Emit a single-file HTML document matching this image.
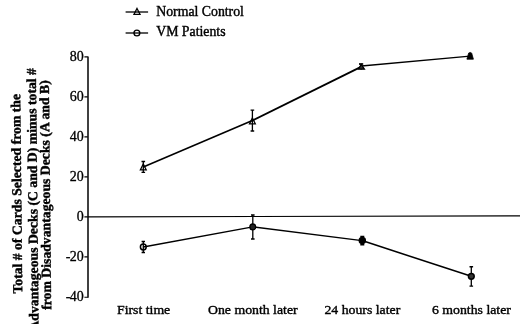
<!DOCTYPE html>
<html><head><meta charset="utf-8"><title>Chart</title>
<style>
html,body{margin:0;padding:0;background:#fff;}
svg{display:block;font-family:"Liberation Serif",serif;fill:#000;}
text{stroke:#000;stroke-width:0.4px;stroke-linejoin:round;}
.b text{stroke-width:0.4px;}
.t text{stroke-width:0.3px;}
</style></head>
<body>
<svg width="520" height="324" viewBox="0 0 520 324">
<rect x="0" y="0" width="520" height="324" fill="#fff"/>
<!-- axes -->
<g stroke="#000" stroke-width="1.1" fill="none">
<path d="M88 56.4V297.7" stroke-width="1.5"/>
<path d="M84.4 56.9H87.8M84.4 96.9H87.8M84.4 136.9H87.8M84.4 176.9H87.8M84.4 216.9H87.8M84.4 256.9H87.8M84.4 297.2H87.8"/>
<path d="M87.8 216.9L520 215.9" stroke-width="1.15"/>
</g>
<!-- tick labels -->
<g class="t" font-size="14" text-anchor="end">
<text x="83.7" y="60.6">80</text>
<text x="83.7" y="100.6">60</text>
<text x="83.7" y="140.6">40</text>
<text x="83.7" y="180.6">20</text>
<text x="83.7" y="220.8">0</text>
<text x="83.7" y="260.8">-<tspan dx="-0.8">20</tspan></text>
<text x="83.7" y="301">-<tspan dx="-0.8">40</tspan></text>
</g>
<!-- x labels -->
<g font-size="13.8">
<text transform="translate(117 313.8) scale(1 0.96)">First time</text>
<text transform="translate(208 313.8) scale(1 0.96)">One month later</text>
<text transform="translate(324.4 313.8) scale(1 0.96)">24 hours later</text>
<text transform="translate(432 313.8) scale(1 0.96)">6 months later</text>
</g>
<!-- y label -->
<g class="b" font-size="13.72" font-weight="bold">
<text transform="translate(22.3 293.6) rotate(-90.6)">Total # of Cards Selected from the</text>
<text transform="translate(38.6 330.6) rotate(-90.6)">Advantageous Decks (C and D) minus total #</text>
<text transform="translate(51.2 309.8) rotate(-90.6)">from Disadvantageous Decks (A and B)</text>
</g>
<!-- legend -->
<g font-size="13.8">
<text x="156.2" y="15.6">Normal Control</text>
<text x="156.2" y="35.9">VM Patients</text>
</g>
<g stroke="#000" fill="none">
<path d="M125.6 12H148.1" stroke-width="1.3"/>
<path d="M125.6 33H148.1" stroke-width="1.3"/>
<path d="M137 8.5L140 14.3H134Z" stroke-width="1.3"/>
<circle cx="136.9" cy="33" r="2.9" stroke-width="1.4"/>
</g>
<!-- series lines -->
<g stroke="#000" fill="none" stroke-width="1.9" stroke-linejoin="round">
<path d="M143.3 167L252.4 120.6" stroke-width="1.6"/>
<path d="M252.4 120.6L361.5 66.6" stroke-width="1.85"/>
<path d="M361.5 66L470 56.2" stroke-width="1.3"/>
<path d="M143.3 247L252.8 226.9L362 240.6" stroke-width="1.4"/>
<path d="M362 240.6L471.3 276.3" stroke-width="1.55"/>
</g>
<!-- error bars -->
<g stroke="#000" fill="none" stroke-width="1.3">
<path d="M143.3 161.5V172.4M141.5 161.5H145.1M141.5 172.4H145.1"/>
<path d="M252.4 110.2V131M250.6 110.2H254.2M250.6 131H254.2"/>
<path d="M361.2 63.9V69.5"/>
<path d="M359 64H363.2" stroke-width="1.7"/>
<path d="M143.3 241.3V252.5"/>
<path d="M141.6 241.4H145M141.6 252.5H145" stroke-width="1.5"/>
<path d="M252.8 215V239"/>
<path d="M251 215H254.6M251 239H254.6" stroke-width="1.5"/>
<path d="M362.3 236.6V244.7"/>
<path d="M360.3 236.6H364.3M360.3 244.7H364.3" stroke-width="1.5"/>
<path d="M471.3 266.8V286.1"/>
<path d="M469.5 266.8H473.1M469.5 286.1H473.1" stroke-width="1.4"/>
</g>
<!-- markers -->
<g stroke="#000" stroke-width="1.3" fill="none">
<path d="M143.3 164L146.2 169.8H140.4Z"/>
<path d="M252.4 118L255.3 123.8H249.5Z"/>
<path d="M361.3 64.5L364.4 69.2H358.4Z" fill="#333"/>
<path d="M466.9 59.2H473.4L472.2 55Q472.2 52.4 470.2 52.4Q468.1 52.4 468.1 55Z" fill="#000" stroke-width="0.8"/>
<circle cx="143.3" cy="247" r="2.9" stroke-width="1.5"/>
<circle cx="252.8" cy="226.9" r="2.9" fill="#222"/>
<circle cx="362.3" cy="240.6" r="3" fill="#000" stroke-width="1.5"/>
<circle cx="471.3" cy="276.3" r="2.9" fill="#333" stroke-width="1.5"/>
</g>
</svg>
</body></html>
